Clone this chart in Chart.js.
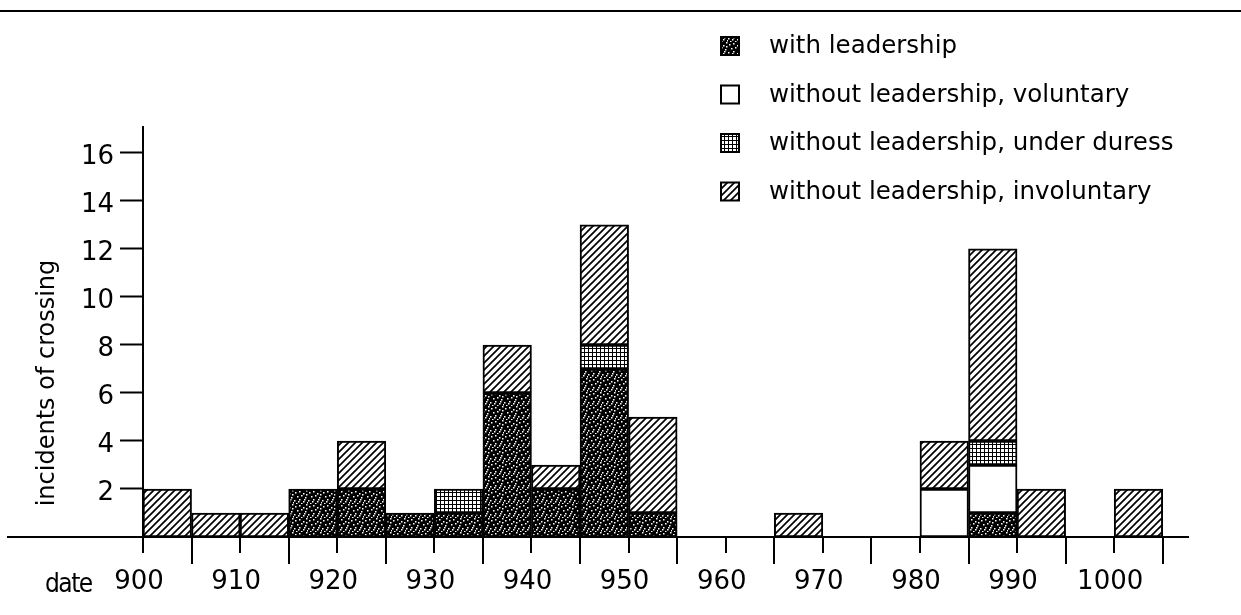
<!DOCTYPE html>
<html>
<head>
<meta charset="utf-8">
<script src="https://cdn.jsdelivr.net/npm/chart.js@4.4.1/dist/chart.umd.min.js"></script>
<style>
html,body{margin:0;padding:0;background:#fff;}
canvas{display:block;}
</style>
</head>
<body>
<canvas id="c" width="1241" height="615"></canvas>
<script>
// ---------- data ----------
const binStarts = [900,905,910,915,920,925,930,935,940,945,950,955,960,965,970,975,980,985,990,995,1000];
const binWidth = 5;
const tickEdges = [900,905,910,915,920,925,930,935,940,945,950,955,960,965,970,975,980,985,990,995,1000,1005];
const xTickLabels = ['900','910','920','930','940','950','960','970','980','990','1000'];
const yTickLabels = ['2','4','6','8','10','12','14','16'];
const seriesNames = ['with leadership','without leadership, voluntary','without leadership, under duress','without leadership, involuntary'];
const withLeadership = [0,0,0,2,2,1,1,6,2,7,1,0,0,0,0,0,0,1,0,0,0];
const voluntary      = [0,0,0,0,0,0,0,0,0,0,0,0,0,0,0,0,2,2,0,0,0];
const underDuress    = [0,0,0,0,0,0,1,0,0,1,0,0,0,0,0,0,0,1,0,0,0];
const involuntary    = [2,1,1,0,2,0,0,2,1,5,4,0,0,1,0,0,2,8,2,0,2];
const xLabel = 'date';
const yLabel = 'incidents of crossing';

// ---------- patterns ----------
function makeTile(size, draw){
  const t = document.createElement('canvas');
  t.width = size; t.height = size;
  const g = t.getContext('2d');
  draw(g, size);
  return document.getElementById('c').getContext('2d').createPattern(t, 'repeat');
}
const speckles = [[1,2],[5,1],[9,3],[12,0],[3,6],[7,5],[11,7],[0,10],[5,9],[9,11],[13,12],[2,13],[7,13],[12,4],[4,11],[10,9]];
const leadPattern = makeTile(14, (g,s)=>{
  g.fillStyle = '#000'; g.fillRect(0,0,s,s);
  g.fillStyle = '#fff';
  speckles.forEach(p=>g.fillRect(p[0],p[1],1.5,1.5));
});
const duressPattern = makeTile(4, (g,s)=>{
  g.fillStyle = '#fff'; g.fillRect(0,0,s,s);
  g.fillStyle = '#000';
  g.fillRect(0,0,s,1); g.fillRect(0,0,1,s);
});
const hatchPattern = makeTile(7, (g,s)=>{
  g.fillStyle = '#fff'; g.fillRect(0,0,s,s);
  g.strokeStyle = '#000'; g.lineWidth = 1.7;
  g.beginPath();
  g.moveTo(-1, s+1); g.lineTo(s+1, -1);
  g.moveTo(-1, 1); g.lineTo(1, -1);
  g.moveTo(s-1, s+1); g.lineTo(s+1, s-1);
  g.stroke();
});

function toPoints(arr){
  return binStarts.map((b,i)=>({x: b + binWidth/2, y: arr[i] === 0 ? null : arr[i]}));
}

const fills = [leadPattern, '#ffffff', duressPattern, hatchPattern];
const seriesData = [withLeadership, voluntary, underDuress, involuntary];

const datasets = seriesNames.map((name,i)=>({
  label: name,
  data: toPoints(seriesData[i]),
  backgroundColor: fills[i],
  borderColor: '#000',
  borderWidth: 2,
  borderSkipped: false,
  barPercentage: 1,
  categoryPercentage: 1
}));

Chart.defaults.font.family = "'DejaVu Sans', sans-serif";
Chart.defaults.color = '#000';

const decor = {
  id: 'decor',
  beforeDraw(chart){
    const ctx = chart.ctx;
    ctx.save();
    ctx.fillStyle = '#fff';
    ctx.fillRect(0,0,chart.width,chart.height);
    ctx.strokeStyle = '#000';
    ctx.lineWidth = 2;
    ctx.beginPath(); ctx.moveTo(0, 11); ctx.lineTo(chart.width, 11); ctx.stroke();
    ctx.restore();
  },
  afterDraw(chart){
    const ctx = chart.ctx;
    const xs = chart.scales.x;
    const ca = chart.chartArea;
    ctx.save();
    ctx.strokeStyle = '#000';
    ctx.lineWidth = 2;
    // axis line extended to the left
    ctx.beginPath(); ctx.moveTo(7, ca.bottom); ctx.lineTo(ca.right, ca.bottom); ctx.stroke();
    // tick marks at bin edges
    tickEdges.forEach(v=>{
      const px = Math.round(xs.getPixelForValue(v));
      const len = (v % 10 === 0) ? 16 : 27;
      ctx.beginPath(); ctx.moveTo(px, ca.bottom); ctx.lineTo(px, ca.bottom + len); ctx.stroke();
    });
    // x label "date"
    ctx.fillStyle = '#000';
    ctx.font = "26px 'DejaVu Sans Condensed', 'DejaVu Sans'";
    try { ctx.letterSpacing = '-1.5px'; } catch(e) {}
    ctx.textAlign = 'left';
    ctx.textBaseline = 'alphabetic';
    ctx.fillText(xLabel, 45, 592);
    try { ctx.letterSpacing = '0px'; } catch(e) {}
    // y title
    ctx.save();
    ctx.translate(48, 383);
    ctx.rotate(-Math.PI/2);
    ctx.font = "24px 'DejaVu Sans'";
    ctx.textAlign = 'center';
    ctx.textBaseline = 'middle';
    ctx.fillText(yLabel, 0, 0);
    ctx.restore();
    // legend
    const lx = 721, size = 18;
    chart.data.datasets.forEach((ds,i)=>{
      const cy = 46 + i*48.5;
      ctx.fillStyle = ds.backgroundColor;
      ctx.fillRect(lx, cy - size/2, size, size);
      ctx.lineWidth = 2;
      ctx.strokeStyle = '#000';
      ctx.strokeRect(lx, cy - size/2, size, size);
      ctx.fillStyle = '#000';
      ctx.font = "24.5px 'DejaVu Sans'";
      ctx.textAlign = 'left';
      ctx.textBaseline = 'middle';
      ctx.fillText(ds.label, 769, cy + 1);
    });
    ctx.restore();
  }
};

new Chart(document.getElementById('c'), {
  type: 'bar',
  data: { datasets },
  options: {
    responsive: false,
    animation: false,
    events: [],
    layout: { padding: { left: 0, right: 53, top: 127, bottom: 0 } },
    plugins: { legend: { display: false }, tooltip: { enabled: false } },
    scales: {
      x: {
        type: 'linear',
        stacked: true,
        offset: false,
        min: 900,
        max: 1007.6,
        afterFit(scale){ scale.height = 78; },
        afterBuildTicks(scale){ scale.ticks = xTickLabels.map(l=>({value: Number(l)})); },
        ticks: {
          autoSkip: false,
          maxRotation: 0,
          padding: 30,
          labelOffset: -4,
          font: { size: 26 },
          callback: (v)=> String(v)
        },
        grid: { display: false, drawTicks: false, offset: false },
        border: { display: true, color: '#000', width: 2 }
      },
      y: {
        type: 'linear',
        stacked: true,
        min: 0,
        max: 17.08,
        afterFit(scale){ scale.width = 143; },
        afterBuildTicks(scale){ scale.ticks = yTickLabels.map(l=>({value: Number(l)})); },
        ticks: {
          autoSkip: false,
          padding: 6,
          labelOffset: 4,
          font: { size: 26 },
          callback: (v)=> String(v)
        },
        grid: { drawOnChartArea: false, drawTicks: true, tickLength: 23, tickWidth: 2, tickColor: '#000' },
        border: { display: true, color: '#000', width: 2 }
      }
    }
  },
  plugins: [decor]
});
</script>
</body>
</html>
